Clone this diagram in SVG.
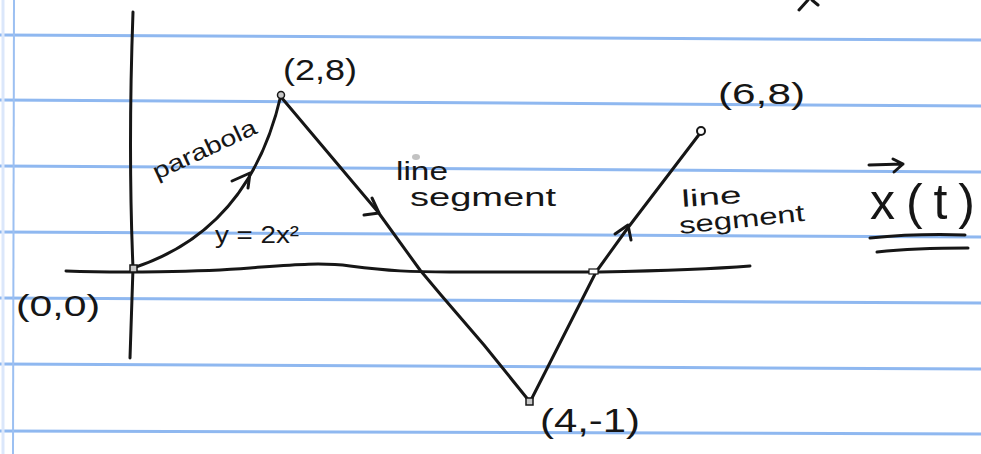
<svg xmlns="http://www.w3.org/2000/svg" width="981" height="454" viewBox="0 0 981 454">
<style>
.rule{stroke:#8fb8f0;stroke-width:3;fill:none}
.ink{stroke:#161616;stroke-width:3;fill:none;stroke-linecap:round;stroke-linejoin:round}
.pt{fill:#c8c8c8;stroke:#161616;stroke-width:1.5}
.t{font-family:"Liberation Sans",Arial,sans-serif;fill:#161616}
</style>
<rect width="981" height="454" fill="#ffffff"/>
<g id="paper">
<line class="rule" x1="0" y1="35" x2="981" y2="40"/>
<line class="rule" x1="0" y1="100" x2="981" y2="106"/>
<line class="rule" x1="0" y1="166" x2="981" y2="172"/>
<line class="rule" x1="0" y1="232" x2="981" y2="237"/>
<line class="rule" x1="0" y1="298" x2="981" y2="303"/>
<line class="rule" x1="0" y1="364" x2="981" y2="369"/>
<line class="rule" x1="0" y1="431" x2="981" y2="434"/>
<line x1="14" y1="0" x2="13" y2="454" stroke="#9cc0f2" stroke-width="2"/>
<line x1="3" y1="0" x2="3" y2="454" stroke="#dbe7fb" stroke-width="3"/>
<ellipse cx="416" cy="157" rx="4" ry="3" fill="#9a9a9a" opacity="0.6"/>
</g>
<g id="axes">
<path class="ink" d="M133,12 Q128,150 133,268 L130,358"/>
<path class="ink" d="M66,271 C120,273 200,272 250,268 C290,265 320,262 350,266 C390,271 410,272 450,272 L600,272 C650,271 700,270 750,266"/>
</g>
<g id="connectors">
<path class="ink" d="M133,268 Q250,230 281,95"/>
<path class="ink" d="M232,181 L250,173 L248,188"/>
<path class="ink" d="M281,97 L378,212 L420,270 L441,295 L484,345 L530,402"/>
<path class="ink" d="M372,198 L379,213 L364,215"/>
<path class="ink" d="M530,402 L596,272 L627,229 L701,132"/>
<path class="ink" d="M615,234 L628,225 L631,240"/>
</g>
<g id="node-origin">
<rect class="pt" x="130" y="265" width="7" height="7"/>
<text class="t" x="16" y="316" font-size="30" textLength="84" lengthAdjust="spacingAndGlyphs">(0,0)</text>
</g>
<g id="node-2-8">
<circle class="pt" cx="281" cy="95" r="3.5"/>
<text class="t" x="283" y="80" font-size="30" textLength="74" lengthAdjust="spacingAndGlyphs">(2,8)</text>
</g>
<g id="node-4-m1">
<rect class="pt" x="526" y="398" width="7" height="7"/>
<text class="t" x="540" y="432" font-size="34" textLength="100" lengthAdjust="spacingAndGlyphs">(4,-1)</text>
</g>
<g id="node-6-8">
<circle cx="701" cy="131" r="4" fill="#ffffff" stroke="#161616" stroke-width="2"/>
<text class="t" x="718" y="104" font-size="30" textLength="87" lengthAdjust="spacingAndGlyphs">(6,8)</text>
</g>
<g id="node-crossing">
<rect x="589" y="269" width="9" height="5" fill="#ffffff" stroke="#161616" stroke-width="1.2"/>
</g>
<g id="labels">
<text class="t" font-size="23" transform="translate(157,180) rotate(-25)" textLength="112" lengthAdjust="spacingAndGlyphs">parabola</text>
<text class="t" x="215" y="243" font-size="24" textLength="84" lengthAdjust="spacingAndGlyphs">y = 2x²</text>
<text class="t" x="396" y="180" font-size="25" textLength="52" lengthAdjust="spacingAndGlyphs">line</text>
<text class="t" x="410" y="206" font-size="25" textLength="146" lengthAdjust="spacingAndGlyphs">segment</text>
<text class="t" font-size="24" transform="translate(682,207) rotate(-4)" textLength="60" lengthAdjust="spacingAndGlyphs">line</text>
<text class="t" font-size="24" transform="translate(680,234) rotate(-6)" textLength="126" lengthAdjust="spacingAndGlyphs">segment</text>
</g>
<g id="title">
<text class="t" x="870" y="219" font-size="50" textLength="105" lengthAdjust="spacing">x(t)</text>
<path class="ink" d="M869,165 L903,164 M893,159 L903,164 L894,172"/>
<path class="ink" d="M870,238 C900,235 935,234 965,235"/>
<path class="ink" d="M877,252 C905,249 940,248 968,248"/>
<path class="ink" d="M799,10 L808,0 M812,0 L818,5"/>
</g>
</svg>
